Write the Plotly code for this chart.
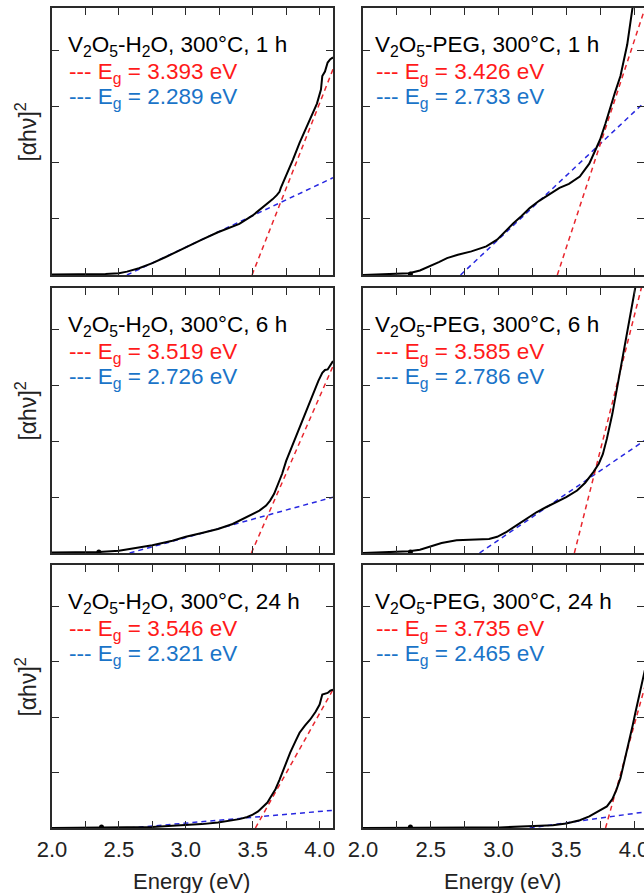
import plotly.graph_objects as go

W, H = 644, 893

# energy axis ticks (bottom row only gets labels)
tick_vals = [2.0, 2.25, 2.5, 2.75, 3.0, 3.25, 3.5, 3.75, 4.0]
tick_text = ["2.0", "", "2.5", "", "3.0", "", "3.5", "", "4.0"]

sample_names = ["V<sub>2</sub>O<sub>5</sub>-H<sub>2</sub>O", "V<sub>2</sub>O<sub>5</sub>-PEG"]
times = ["1 h", "6 h", "24 h"]
# panel order: H2O 1h, PEG 1h, H2O 6h, PEG 6h, H2O 24h, PEG 24h
eg_red = [3.393, 3.426, 3.519, 3.585, 3.546, 3.735]
eg_blue = [2.289, 2.733, 2.726, 2.786, 2.321, 2.465]

E_h2o_1h = [2.0, 2.2, 2.4, 2.5, 2.56, 2.65, 2.75, 2.85, 3.0, 3.12, 3.24, 3.33, 3.4, 3.5, 3.6, 3.65,
            3.68, 3.7, 3.71, 3.75, 3.8, 3.85, 3.9, 3.94, 3.98, 4.01, 4.02, 4.04, 4.06, 4.08, 4.1]
A_h2o_1h = [0.01, 0.01, 0.02, 0.03, 0.06, 0.12, 0.21, 0.32, 0.5, 0.63, 0.76, 0.84, 0.91, 1.06, 1.25, 1.35,
            1.42, 1.48, 1.55, 1.76, 2.05, 2.35, 2.62, 2.83, 3.05, 3.3, 3.54, 3.62, 3.78, 3.84, 3.87]

E_peg_1h = [2.0, 2.2, 2.34, 2.42, 2.49, 2.56, 2.62, 2.7, 2.8, 2.91, 2.99, 3.05, 3.11, 3.17, 3.23, 3.3,
            3.35, 3.45, 3.52, 3.6, 3.67, 3.71, 3.75, 3.79, 3.82, 3.86, 3.9, 3.95, 3.99, 4.02]
A_peg_1h = [0.0, 0.01, 0.03, 0.08, 0.15, 0.23, 0.3, 0.36, 0.42, 0.51, 0.63, 0.78, 0.92, 1.05, 1.19, 1.32,
            1.4, 1.55, 1.62, 1.75, 1.98, 2.18, 2.41, 2.7, 2.95, 3.25, 3.54, 4.1, 4.77, 5.2]

E_h2o_6h = [2.0, 2.2, 2.35, 2.5, 2.6, 2.75, 2.9, 3.0, 3.12, 3.24, 3.35, 3.4, 3.45, 3.5, 3.55, 3.6,
            3.63, 3.66, 3.68, 3.72, 3.75, 3.8, 3.85, 3.9, 3.95, 3.99, 4.02, 4.04, 4.06, 4.08, 4.1]
A_h2o_6h = [0.01, 0.01, 0.02, 0.04, 0.08, 0.14, 0.22, 0.29, 0.36, 0.43, 0.52, 0.58, 0.63, 0.69, 0.76, 0.85,
            0.94, 1.06, 1.18, 1.42, 1.65, 1.95, 2.22, 2.52, 2.82, 3.08, 3.23, 3.28, 3.29, 3.36, 3.44]

E_peg_6h = [2.0, 2.2, 2.34, 2.42, 2.49, 2.58, 2.69, 2.78, 2.86, 2.93, 2.99, 3.06, 3.13, 3.2, 3.28, 3.35,
            3.43, 3.5, 3.58, 3.64, 3.7, 3.74, 3.77, 3.8, 3.84, 3.87, 3.9, 3.93, 3.96, 3.99, 4.02]
A_peg_6h = [0.0, 0.01, 0.03, 0.06, 0.11, 0.18, 0.23, 0.24, 0.24, 0.25, 0.29, 0.38, 0.49, 0.6, 0.73, 0.82,
            0.91, 1.0, 1.12, 1.26, 1.45, 1.6, 1.77, 2.05, 2.49, 2.9, 3.32, 3.74, 4.15, 4.55, 4.9]

E_h2o_24h = [2.0, 2.37, 2.6, 2.75, 2.9, 3.0, 3.12, 3.24, 3.32, 3.4, 3.46, 3.5, 3.54, 3.58, 3.61, 3.63,
             3.67, 3.7, 3.74, 3.78, 3.82, 3.85, 3.89, 3.93, 3.97, 4.0, 4.02, 4.04, 4.06, 4.08, 4.1]
A_h2o_24h = [0.0, 0.01, 0.01, 0.02, 0.04, 0.05, 0.07, 0.1, 0.13, 0.16, 0.2, 0.24, 0.3, 0.4, 0.46, 0.54,
             0.7, 0.87, 1.12, 1.36, 1.57, 1.72, 1.85, 1.96, 2.1, 2.23, 2.41, 2.42, 2.44, 2.48, 2.5]

E_peg_24h = [2.0, 2.35, 2.6, 2.8, 3.01, 3.15, 3.26, 3.4, 3.5, 3.6, 3.67, 3.74, 3.8, 3.84, 3.87, 3.9,
             3.92, 3.95, 3.97, 3.99, 4.01, 4.03, 4.05, 4.08]
A_peg_24h = [0.0, 0.01, 0.01, 0.01, 0.01, 0.02, 0.03, 0.05, 0.08, 0.14, 0.21, 0.3, 0.39, 0.52, 0.69, 0.9,
             1.11, 1.38, 1.6, 1.85, 2.08, 2.32, 2.55, 2.85]

# linear Tauc fits (start at baseline, end at panel edge)
red_fit_E = [[3.495, 4.1], [3.434, 4.08], [3.49, 4.1], [3.56, 4.08], [3.52, 4.1], [3.79, 4.08]]
red_fit_A = [[0, 3.66], [0, 4.74], [0, 3.35], [0, 5.0], [0, 2.5], [0, 2.55]]
blue_fit_E = [[2.56, 4.1], [2.72, 4.08], [2.58, 4.1], [2.86, 4.08], [2.58, 4.1], [3.23, 4.08]]
blue_fit_A = [[0, 1.73], [0, 3.08], [0, 1.0], [0, 2.02], [0, 0.32], [0, 0.29]]

# small dot on the baseline of each trace
dot_E = [None, 2.35, 2.35, 2.35, 2.37, 2.35]

curves_E = [E_h2o_1h, E_peg_1h, E_h2o_6h, E_peg_6h, E_h2o_24h, E_peg_24h]
curves_A = [A_h2o_1h, A_peg_1h, A_h2o_6h, A_peg_6h, A_h2o_24h, A_peg_24h]

FONT = "Liberation Sans, Arial, Helvetica, sans-serif"
RED_LINE = "#e8262e"
BLUE_LINE = "#2727e0"
RED_TXT = "#ff1a1a"
BLUE_TXT = "#1a74c8"
FRAME = "#2a2a2a"

col_px = [(52, 333), (363, 644)]
row_px = [(8, 275), (288, 553), (565, 828)]
x_ranges = [[2.0, 4.1], [2.0, 2.0 + 281 / 135.5]]

fig = go.Figure()
annotations = []

for i in range(6):
    r, c = divmod(i, 2)
    n = "" if i == 0 else str(i + 1)
    xa, ya = "x" + n, "y" + n
    x0, x1 = col_px[c]
    y0, y1 = row_px[r]

    fig.add_trace(go.Scatter(x=blue_fit_E[i], y=blue_fit_A[i], mode="lines",
                             line=dict(color=BLUE_LINE, width=1.5, dash="5px,4px"),
                             xaxis=xa, yaxis=ya, showlegend=False))
    fig.add_trace(go.Scatter(x=red_fit_E[i], y=red_fit_A[i], mode="lines",
                             line=dict(color=RED_LINE, width=1.5, dash="5px,4px"),
                             xaxis=xa, yaxis=ya, showlegend=False))
    fig.add_trace(go.Scatter(x=curves_E[i], y=curves_A[i], mode="lines",
                             line=dict(color="black", width=2),
                             xaxis=xa, yaxis=ya, showlegend=False))
    if dot_E[i] is not None:
        fig.add_trace(go.Scatter(x=[dot_E[i]], y=[0.02], mode="markers",
                                 marker=dict(color="black", size=5),
                                 xaxis=xa, yaxis=ya, showlegend=False, cliponaxis=False))

    fig.layout["xaxis" + n] = dict(
        domain=[x0 / W, x1 / W], range=x_ranges[c], anchor=ya,
        tickvals=tick_vals, ticktext=tick_text, showticklabels=(r == 2),
        ticks="inside", ticklen=7, tickwidth=1.3, tickcolor=FRAME,
        showline=True, linecolor=FRAME, linewidth=1.5, mirror="ticks",
        showgrid=False, zeroline=False, automargin=False, ticklabeloverflow="allow",
        tickfont=dict(family=FONT, size=22, color="#222"), ticklabelstandoff=1,
    )
    fig.layout["yaxis" + n] = dict(
        domain=[1 - y1 / H, 1 - y0 / H], range=[0, 4.75], anchor=xa,
        tickvals=[1, 2, 3, 4], showticklabels=False,
        ticks="inside", ticklen=7, tickwidth=1.3, tickcolor=FRAME,
        showline=True, linecolor=FRAME, linewidth=1.5, mirror="ticks",
        showgrid=False, zeroline=False, automargin=False,
    )

    # in-panel labels
    xs = 14 if c == 0 else 10
    annotations.append(dict(xref=xa + " domain", yref=ya + " domain", x=0, y=1, xanchor="left",
                            yanchor="middle", xshift=xs, yshift=-38, showarrow=False,
                            text=f"{sample_names[c]}, 300°C, {times[r]}",
                            font=dict(family=FONT, size=22.5, color="black")))
    annotations.append(dict(xref=xa + " domain", yref=ya + " domain", x=0, y=1, xanchor="left",
                            yanchor="middle", xshift=xs + 1, yshift=-65, showarrow=False,
                            text=f"--- E<sub>g</sub> = {eg_red[i]:.3f} eV",
                            font=dict(family=FONT, size=22.5, color=RED_TXT)))
    annotations.append(dict(xref=xa + " domain", yref=ya + " domain", x=0, y=1, xanchor="left",
                            yanchor="middle", xshift=xs + 1, yshift=-90, showarrow=False,
                            text=f"--- E<sub>g</sub> = {eg_blue[i]:.3f} eV",
                            font=dict(family=FONT, size=22.5, color=BLUE_TXT)))

    if c == 0:
        annotations.append(dict(xref="paper", yref="paper", x=26 / W, y=1 - (y0 + y1) / 2 / H + 0.01,
                                xanchor="center", yanchor="middle", textangle=-90, showarrow=False,
                                text="[αhν]<sup>2</sup>",
                                font=dict(family=FONT, size=23, color="#222")))

for c in range(2):
    x0, x1 = col_px[c]
    annotations.append(dict(xref="paper", yref="paper", x=(x0 + x1) / 2 / W - 0.002, y=1 - 881 / H,
                            xanchor="center", yanchor="middle", showarrow=False,
                            text="Energy (eV)", font=dict(family=FONT, size=22, color="#222")))

fig.update_layout(
    width=W, height=H, template="none",
    margin=dict(l=0, r=0, t=0, b=0),
    paper_bgcolor="white", plot_bgcolor="white",
    annotations=annotations, showlegend=False,
)

# the page body has a default 8px margin; drop it so the figure fills the window
fig.write_html("out.html", config={"displayModeBar": False},
               post_script="document.body.style.margin='0';")
